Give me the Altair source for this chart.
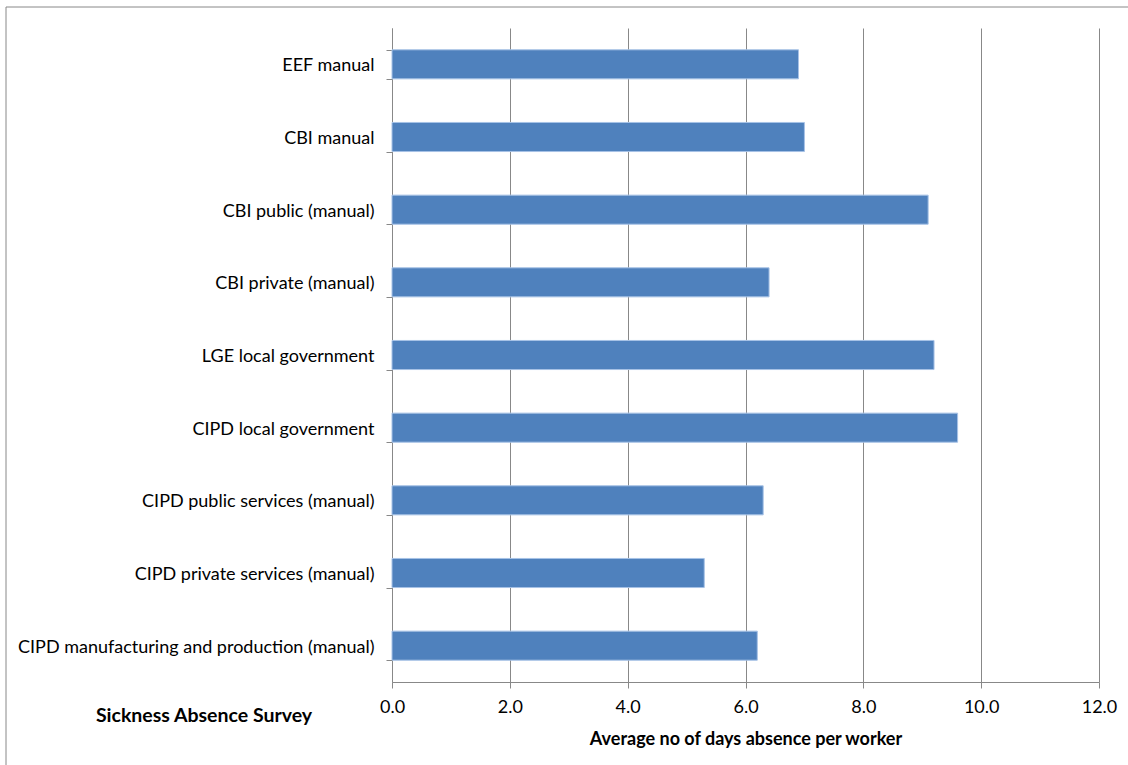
import altair as alt
import pandas as pd

categories = [
    "EEF manual",
    "CBI manual",
    "CBI public (manual)",
    "CBI private (manual)",
    "LGE local government",
    "CIPD local government",
    "CIPD public services (manual)",
    "CIPD private services (manual)",
    "CIPD manufacturing and production (manual)",
]
values = [6.9, 7.0, 9.1, 6.4, 9.2, 9.6, 6.3, 5.3, 6.2]
x_ticks = [0, 2, 4, 6, 8, 10, 12]
chart_title = "Sickness Absence Survey"
x_title = "Average no of days absence per worker"

df = pd.DataFrame({"category": categories, "days": values})

FONT = "Lato"
GRID = "#888888"

bars = alt.Chart(df).mark_bar(
    color="#4F81BD", stroke="#A7C2E6", strokeWidth=1
).encode(
    x=alt.X(
        "days:Q",
        scale=alt.Scale(domain=[0, 12], nice=False),
        axis=alt.Axis(
            values=x_ticks,
            format=".1f",
            title=x_title,
            grid=True,
            gridColor=GRID,
            gridWidth=1,
            domainColor=GRID,
            tickColor=GRID,
            tickSize=6,
            labelPadding=10,
            labelFlush=False,
            labelFont=FONT,
            labelFontSize=18,
            labelColor="black",
            titleFont=FONT,
            titleFontSize=18,
            titleFontWeight="bold",
            titleColor="black",
            titlePadding=14,
        ),
    ),
    y=alt.Y(
        "category:N",
        sort=None,
        scale=alt.Scale(paddingInner=0.6, paddingOuter=0.3),
        axis=alt.Axis(
            title=None,
            tickBand="extent",
            grid=False,
            domainColor=GRID,
            tickColor=GRID,
            tickSize=6,
            labelPadding=12,
            labelOffset=1.5,
            labelFont=FONT,
            labelFontSize=18,
            labelColor="black",
            labelLimit=500,
        ),
    ),
)

label_df = pd.DataFrame({"t": [chart_title]})
title_text = alt.Chart(label_df).mark_text(
    font=FONT, fontSize=19.5, fontWeight="bold", color="black",
    align="center", baseline="middle",
).encode(
    text="t:N",
    x=alt.value(-188),
    y=alt.value(688),
)

frame = alt.Chart(label_df).mark_rect(
    fill=None, fillOpacity=0, stroke=GRID, strokeWidth=1
).encode(
    x=alt.value(-386),
    x2=alt.value(760),
    y=alt.value(-21),
    y2=alt.value(760),
)

chart = alt.layer(frame, bars, title_text).properties(
    width=707,
    height=654,
    autosize=alt.AutoSizeParams(type="none"),
    padding={"left": 392, "top": 28, "right": 29, "bottom": 83},
    background="white",
).configure_view(stroke=None)

chart.save("out.html", embed_options={"renderer": "svg", "actions": False})
